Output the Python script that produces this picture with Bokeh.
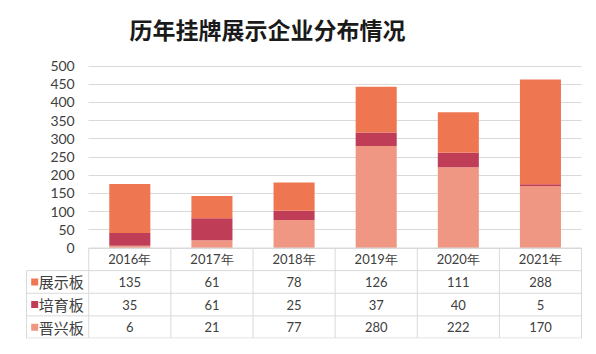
from bokeh.plotting import figure
from bokeh.models import FixedTicker, ColumnDataSource, Range1d, Grid
from bokeh.embed import file_html
from bokeh.resources import INLINE
from bokeh.core.properties import value

title_text = "历年挂牌展示企业分布情况"
years = ["2016年", "2017年", "2018年", "2019年", "2020年", "2021年"]
series_names = ["展示板", "培育板", "晋兴板"]
zhanshi = [135, 61, 78, 126, 111, 288]
peiyu = [35, 61, 25, 37, 40, 5]
jinxing = [6, 21, 77, 280, 222, 170]
y_ticks = [0, 50, 100, 150, 200, 250, 300, 350, 400, 450, 500]

colors = {"展示板": "#EE7752", "培育板": "#C03D58", "晋兴板": "#EF9783"}
TXT = "#404040"
GRID = "#d9d9d9"
NUM_FONT = "Lato"
CJK_FONT = "Noto Sans CJK SC"

n = len(years)
xs = [i + 0.5 for i in range(n)]

# layout constants (pixels)
W, H = 596, 354
B_LEFT, B_RIGHT, B_BOTTOM = 25, 14, 16
FRAME_W = W - B_LEFT - B_RIGHT
FRAME_H = H - B_BOTTOM
TOP_PX = 65.5      # pixel row of the 500 gridline
ZERO_PX = 247.5    # pixel row of the 0 baseline
TABLE_H = FRAME_H - ZERO_PX
LBL = 0.758        # label column width in category units
PAD = 0.012

ymax = 500
upp = ymax / (ZERO_PX - TOP_PX)   # value units per pixel
p = figure(width=W, height=H,
           x_range=Range1d(-LBL - PAD, n + PAD),
           y_range=Range1d(-TABLE_H * upp, ymax + TOP_PX * upp),
           output_backend="svg", toolbar_location=None,
           x_axis_location=None,
           min_border_left=B_LEFT, min_border_right=B_RIGHT,
           min_border_top=0, min_border_bottom=B_BOTTOM,
           outline_line_color=None)
p.extra_y_ranges = {"table": Range1d(0, 4 * FRAME_H / TABLE_H),
                    "px": Range1d(FRAME_H, 0)}
p.extra_x_ranges = {"px": Range1d(B_LEFT, W - B_RIGHT)}

# title
p.text(x=[267], y=[28], text=[title_text], text_align="center",
       text_baseline="middle", text_font=value(CJK_FONT),
       text_font_size="23px", text_font_style="bold", text_color="#1a1a1a",
       x_range_name="px", y_range_name="px")

# grid & axis
p.xgrid.visible = False
p.ygrid.visible = False
grid = Grid(dimension=1, ticker=FixedTicker(ticks=y_ticks), grid_line_color=GRID)
if "cross_bounds" in Grid.properties():
    grid.cross_bounds = (0, n)
    p.add_layout(grid)
else:
    p.segment(x0=[0] * len(y_ticks), y0=y_ticks, x1=[n] * len(y_ticks), y1=y_ticks,
              line_color=GRID)

yax = p.yaxis[0]
yax.ticker = FixedTicker(ticks=y_ticks)
yax.fixed_location = 0
yax.axis_line_color = None
yax.major_tick_line_color = None
yax.minor_tick_line_color = None
yax.major_label_standoff = 8
yax.major_label_text_font = NUM_FONT
yax.major_label_text_font_size = "14px"
yax.major_label_text_color = TXT

# bars
src = ColumnDataSource(dict(x=xs, 晋兴板=jinxing, 培育板=peiyu, 展示板=zhanshi))
stack_order = ["晋兴板", "培育板", "展示板"]
p.vbar_stack(stack_order, x="x", width=0.5, source=src,
             color=[colors[s] for s in stack_order], line_color=None)

# data table (rows 0..4 on "table" range, header = row 3..4)
left = -LBL
T = "table"
p.segment(x0=[0], y0=[4], x1=[n], y1=[4], line_color=GRID, y_range_name=T)
p.segment(x0=[left] * 4, y0=[3, 2, 1, 0.02], x1=[n] * 4, y1=[3, 2, 1, 0.02],
          line_color=GRID, y_range_name=T)
p.segment(x0=[left], y0=[0], x1=[left], y1=[3], line_color=GRID, y_range_name=T)
p.segment(x0=list(range(n + 1)), y0=[0.02] * (n + 1), x1=list(range(n + 1)),
          y1=[4] * (n + 1), line_color=GRID, y_range_name=T)

p.text(x=xs, y=[3.5] * n, text=years, text_align="center", text_baseline="middle",
       text_font=value(NUM_FONT), text_font_size="13px", text_color=TXT,
       y_range_name=T)

rows = [zhanshi, peiyu, jinxing]
for r, (name, vals) in enumerate(zip(series_names, rows)):
    yc = 2.5 - r
    p.text(x=xs, y=[yc] * n, text=[str(v) for v in vals], text_align="center",
           text_baseline="middle", text_font=value(NUM_FONT),
           text_font_size="13px", text_color=TXT, y_range_name=T)
    p.scatter(x=[left + 0.1], y=[yc], marker="square", size=7,
              color=colors[name], line_color=None, y_range_name=T)
    p.text(x=[left + 0.15], y=[yc], text=[name], text_align="left",
           text_baseline="middle", text_font=value(CJK_FONT),
           text_font_size="15px", text_color=TXT, y_range_name=T)

open("out.html", "w").write(file_html(p, INLINE))
